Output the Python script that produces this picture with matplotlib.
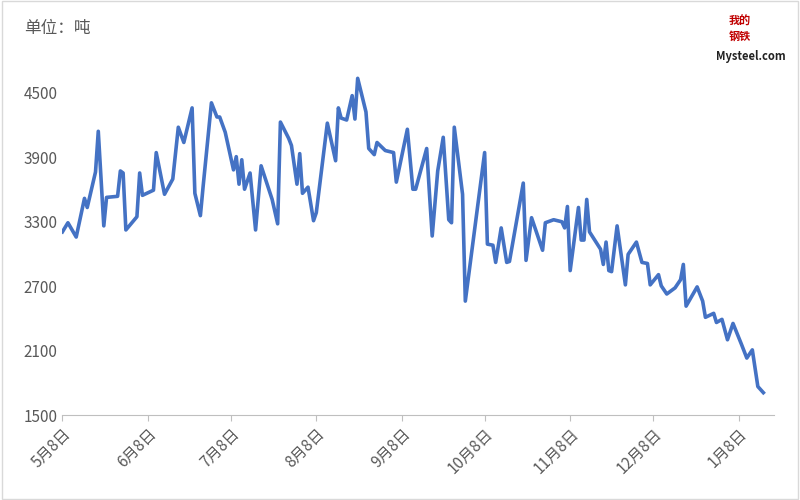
import matplotlib
matplotlib.use("Agg")
import matplotlib.pyplot as plt
from matplotlib.patches import Rectangle

plt.rcParams['font.family'] = ['Noto Sans CJK SC', 'DejaVu Sans']

days = [0,2,5,7,8,9,12,13,15,16,20,21,22,23,27,28,29,33,34,37,40,42,44,47,48,50,51,54,56,57,59,62,63,64,65,66,68,70,72,76,78,79,82,83,85,86,87,89,91,92,96,99,100,101,103,105,106,107,110,111,113,114,117,120,121,125,127,128,132,133,134,136,138,140,141,142,145,146,153,154,156,157,159,161,162,167,168,170,174,175,178,181,182,183,184,187,188,189,190,191,195,196,197,198,199,201,204,205,208,210,212,213,216,217,219,222,224,225,226,230,232,233,236,237,239,241,243,246,248,250,252,254]
values = [3204,3289,3156,3393,3516,3431,3762,4140,3260,3525,3535,3771,3752,3222,3345,3752,3544,3592,3942,3554,3696,4178,4036,4358,3563,3355,3629,4405,4273,4273,4131,3781,3904,3648,3875,3601,3752,3222,3819,3506,3279,4226,4074,4008,3648,3932,3563,3620,3308,3383,4216,3866,4358,4263,4245,4472,4254,4633,4320,3980,3923,4036,3961,3942,3667,4159,3601,3601,3980,3563,3166,3771,4084,3317,3289,4178,3554,2560,3942,3090,3080,2920,3241,2920,2929,3658,2939,3336,3033,3289,3317,3298,3241,3440,2844,3431,3128,3128,3506,3204,3043,2901,3109,2844,2834,3260,2711,2995,3109,2920,2910,2711,2806,2702,2626,2683,2759,2901,2513,2692,2560,2409,2446,2361,2390,2200,2352,2162,2030,2106,1765,1708]

tick_days = [0,31,61,92,123,153,184,214,245]
tick_labels = ["5月8日","6月8日","7月8日","8月8日","9月8日","10月8日","11月8日","12月8日","1月8日"]
y_ticks = [1500,2100,2700,3300,3900,4500]

fig = plt.figure(figsize=(8,5), dpi=100)
fig.patches.append(Rectangle((0.002,0.002),0.996,0.996, transform=fig.transFigure,
                             fill=False, ec='#d9d9d9', lw=1))
ax = fig.add_axes([0.078, 0.17, 0.89, 0.72])
ax.plot(days, values, color='#4472C4', lw=2.6, solid_joinstyle='round')
ax.set_xlim(0, 258)
ax.set_ylim(1500, 4850)
ax.set_yticks(y_ticks)
ax.set_xticks(tick_days)
ax.set_xticklabels(tick_labels, rotation=45, ha='right', rotation_mode='anchor', fontsize=11, color='#595959')
ax.tick_params(axis='y', labelsize=11, colors='#595959', length=0)
ax.tick_params(axis='x', length=4, color='#bfbfbf')
ax.grid(False)
for s in ['top','right','left']:
    ax.spines[s].set_visible(False)
ax.spines['bottom'].set_color('#bfbfbf')
fig.text(0.03, 0.935, "单位：吨", fontsize=12, color='#595959')
fig.text(0.895, 0.88, "Mysteel.com", fontsize=8, fontweight='bold', color='#222222')
fig.text(0.925, 0.92, "我的\n钢铁", fontsize=8, color='#c00000', ha='center', fontweight='bold')
fig.savefig("out.png", dpi=100)
